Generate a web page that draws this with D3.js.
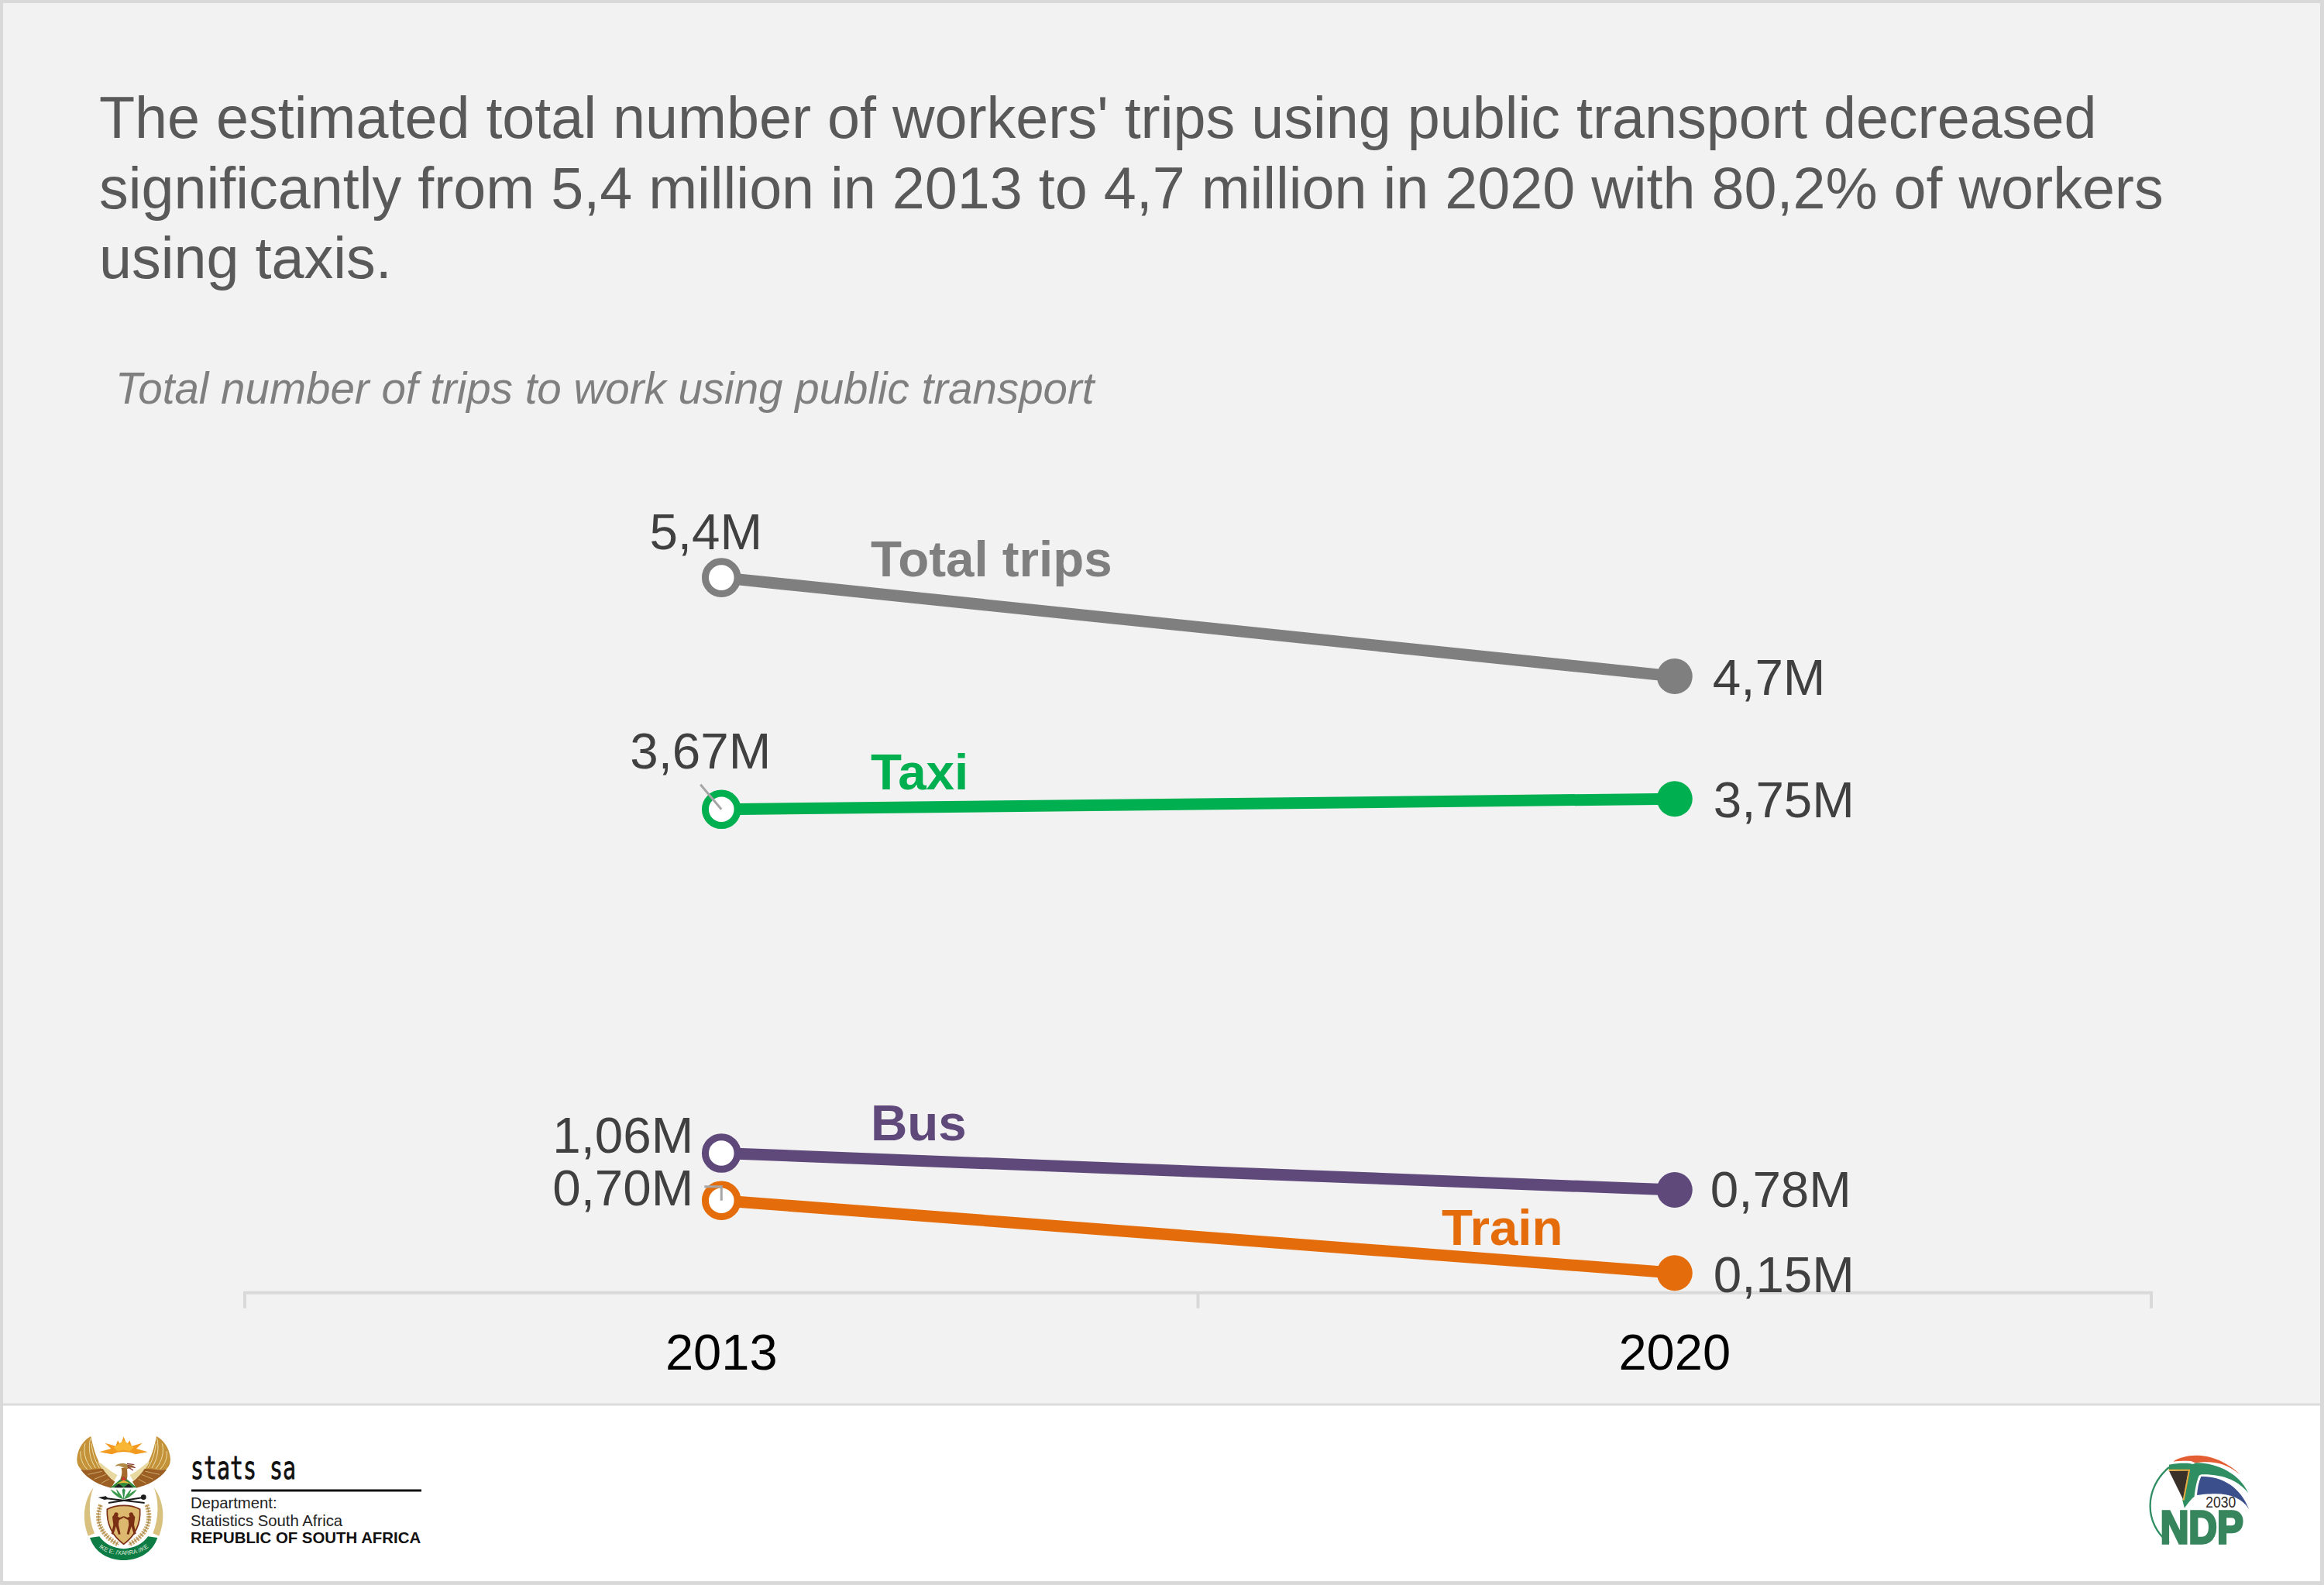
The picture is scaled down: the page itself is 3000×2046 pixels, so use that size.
<!DOCTYPE html>
<html>
<head>
<meta charset="utf-8">
<script src="https://d3js.org/d3.v7.min.js"></script>
<style>
  html, body { margin: 0; padding: 0; background: #fff; }
  svg { display: block; }
  text { font-family: "Liberation Sans", Arial, sans-serif; }
</style>
</head>
<body>
<svg id="chart"></svg>
<script>
const width = 3000, height = 2046;

// Data
const years = ["2013", "2020"];
const seriesNames = ["Total trips", "Taxi", "Bus", "Train"];
const values2013 = [5.43, 3.67, 1.06, 0.70];
const values2020 = [4.68, 3.75, 0.78, 0.15];
const labels2013 = ["5,4M", "3,67M", "1,06M", "0,70M"];
const labels2020 = ["4,7M", "3,75M", "0,78M", "0,15M"];

const titleLines = [
    "The estimated total number of workers' trips using public transport decreased",
    "significantly from 5,4 million in 2013 to 4,7 million in 2020 with 80,2% of workers",
    "using taxis."
];
const subtitle = "Total number of trips to work using public transport";

// Styles, same order as seriesNames
const colors = ["#7f7f7f", "#00b050", "#5f497a", "#e46c0a"];
const leftLabelPos = [[-20, -37], [-27, -53], [-36, -1], [-36, 6]];
const leftAnchor = ["middle", "middle", "end", "end"];
const rightLabelPos = [[49, 24], [50, 24], [46, 22], [50, 25]];
const namePos = [[1124, 744], [1124, 1019], [1124, 1472], [1861, 1607]];

let svg = d3.select("#chart")
    .attr("width", width)
    .attr("height", height)
    .attr("viewBox", "0 0 " + width + " " + height);

// Background
svg.append("rect").attr("width", width).attr("height", height).attr("fill", "#d9d9d9");
svg.append("rect").attr("x", 4).attr("y", 4).attr("width", width - 9).attr("height", height - 9).attr("fill", "#ffffff");
svg.append("rect").attr("x", 4).attr("y", 4).attr("width", width - 9).attr("height", 1809).attr("fill", "#f2f2f2");
svg.append("line").attr("x1", 4).attr("x2", width - 5).attr("y1", 1813).attr("y2", 1813)
    .attr("stroke", "#dcdcdc").attr("stroke-width", 3);

// Title
svg.append("g").selectAll("text")
    .data(titleLines)
    .enter().append("text")
    .attr("x", 128)
    .attr("y", (d, i) => 178 + i * 90.7)
    .attr("font-size", 75.5)
    .attr("fill", "#595959")
    .text(d => d);

svg.append("text")
    .attr("x", 149)
    .attr("y", 521)
    .attr("font-size", 56.5)
    .attr("font-style", "italic")
    .attr("fill", "#7f7f7f")
    .text(subtitle);

// Scales
let x = d3.scaleBand().domain(years).range([316, 2777]);
let y = d3.scaleLinear().domain([0, 6]).range([1668.7, 648.7]);
let cx = d => x(d) + x.bandwidth() / 2;

// X axis, ticks sit on the band edges
let axis = svg.append("g").attr("transform", "translate(0," + y(0) + ")");
axis.append("path")
    .attr("d", "M" + x.range()[0] + ",20V0H" + x.range()[1] + "V20")
    .attr("fill", "none")
    .attr("stroke", "#d9d9d9")
    .attr("stroke-width", 4);
axis.append("line")
    .attr("x1", x(years[1])).attr("x2", x(years[1]))
    .attr("y1", 0).attr("y2", 20)
    .attr("stroke", "#d9d9d9")
    .attr("stroke-width", 4);
axis.selectAll("text.year")
    .data(years)
    .enter().append("text")
    .attr("class", "year")
    .attr("x", d => cx(d))
    .attr("y", 99)
    .attr("text-anchor", "middle")
    .attr("font-size", 65)
    .attr("fill", "#000000")
    .text(d => d);

// Slopes
let line = d3.line().x(d => d[0]).y(d => d[1]);
svg.append("g").selectAll("path")
    .data(seriesNames)
    .enter().append("path")
    .attr("d", (d, i) => line([[cx(years[0]), y(values2013[i])], [cx(years[1]), y(values2020[i])]]))
    .attr("fill", "none")
    .attr("stroke", (d, i) => colors[i])
    .attr("stroke-width", 15);

// Points: open for 2013, filled for 2020
svg.append("g").selectAll("circle")
    .data(values2013)
    .enter().append("circle")
    .attr("cx", cx(years[0]))
    .attr("cy", d => y(d))
    .attr("r", 20.8)
    .attr("fill", "#ffffff")
    .attr("stroke", (d, i) => colors[i])
    .attr("stroke-width", 9);

svg.append("g").selectAll("circle")
    .data(values2020)
    .enter().append("circle")
    .attr("cx", cx(years[1]))
    .attr("cy", d => y(d))
    .attr("r", 23)
    .attr("fill", (d, i) => colors[i]);

// Leader lines for the two labels that were moved
let leaders = svg.append("g").attr("fill", "none").attr("stroke", "#a6a6a6").attr("stroke-width", 3);
leaders.append("path")
    .attr("d", "M" + (cx(years[0]) - 27) + "," + (y(values2013[1]) - 32) + "L" + cx(years[0]) + "," + y(values2013[1]));
leaders.append("path")
    .attr("d", "M" + (cx(years[0]) - 22) + "," + (y(values2013[3]) - 18) + "H" + cx(years[0]) + "V" + y(values2013[3]));

// Value labels
svg.append("g").selectAll("text")
    .data(labels2013)
    .enter().append("text")
    .attr("x", (d, i) => cx(years[0]) + leftLabelPos[i][0])
    .attr("y", (d, i) => y(values2013[i]) + leftLabelPos[i][1])
    .attr("text-anchor", (d, i) => leftAnchor[i])
    .attr("font-size", 65.5)
    .attr("fill", "#404040")
    .text(d => d);

svg.append("g").selectAll("text")
    .data(labels2020)
    .enter().append("text")
    .attr("x", (d, i) => cx(years[1]) + rightLabelPos[i][0])
    .attr("y", (d, i) => y(values2020[i]) + rightLabelPos[i][1])
    .attr("font-size", 65.5)
    .attr("fill", "#404040")
    .text(d => d);

// Series names
svg.append("g").selectAll("text")
    .data(seriesNames)
    .enter().append("text")
    .attr("x", (d, i) => namePos[i][0])
    .attr("y", (d, i) => namePos[i][1])
    .attr("font-size", 65.5)
    .attr("font-weight", "bold")
    .attr("fill", (d, i) => colors[i])
    .text(d => d);

// Footer: stats sa block
let foot = svg.append("g");
foot.append("text").attr("x", 246).attr("y", 1909).attr("font-size", 40)
    .attr("textLength", 136).attr("lengthAdjust", "spacingAndGlyphs")
    .style("font-family", "'DejaVu Sans Mono', monospace")
    .attr("stroke", "#111").attr("stroke-width", 0.8)
    .attr("fill", "#111").text("stats sa");
foot.append("line").attr("x1", 247).attr("x2", 544).attr("y1", 1924).attr("y2", 1924)
    .attr("stroke", "#111").attr("stroke-width", 3);
foot.append("text").attr("x", 246).attr("y", 1947).attr("font-size", 20.3).attr("fill", "#222").text("Department:");
foot.append("text").attr("x", 246).attr("y", 1970).attr("font-size", 20.3).attr("fill", "#222").text("Statistics South Africa");
foot.append("text").attr("x", 246).attr("y", 1992).attr("font-size", 20.4).attr("font-weight", "bold").attr("fill", "#111").text("REPUBLIC OF SOUTH AFRICA");

// Coat of arms, units are thirds of a pixel, symmetric around x=209
let crest = svg.append("g").attr("transform", "translate(90,1840) scale(0.3333)");
let sides = crest.selectAll("g.side").data([0, 1]).enter().append("g")
    .attr("class", "side").attr("transform", d => d ? "translate(418,0) scale(-1,1)" : null);
// tusks
sides.append("path").attr("d", "M92,240 C55,290 45,360 72,428 L96,418 C72,360 72,290 92,240 Z").attr("fill", "#d8c07f");
// gold wing and feathers
sides.append("path").attr("d", "M82,42 C55,55 30,90 28,130 C28,150 35,165 48,172 L130,172 C115,150 100,115 92,85 C88,70 84,55 82,42 Z").attr("fill", "#c49238");
sides.append("path").attr("d", "M80,50 C72,85 75,125 100,165 M60,70 C52,100 58,135 85,168 M42,100 C40,125 48,150 68,170 M84,70 C88,110 100,140 115,165")
    .attr("fill", "none").attr("stroke", "#eedfae").attr("stroke-width", 3);
// pale band under the wing
sides.append("path").attr("d", "M108,140 C125,145 150,175 185,192 L172,215 C150,198 125,175 108,140 Z").attr("fill", "#e8d9a0");
// brown lower wing
sides.append("path").attr("d", "M42,170 C75,176 105,166 128,168 C140,185 155,205 175,218 L160,242 C120,232 72,212 42,170 Z").attr("fill", "#9c5f23");
sides.append("path").attr("d", "M70,190 L125,178 M95,208 L140,190 M122,224 L152,208")
    .attr("fill", "none").attr("stroke", "#d8b779").attr("stroke-width", 2.5);
// tips of the wheat ears
sides.append("path").attr("d", "M120,308 C100,360 110,420 190,462")
    .attr("fill", "none").attr("stroke", "#c9a768").attr("stroke-width", 18).attr("stroke-dasharray", "7 4");
sides.append("path").attr("d", "M120,308 C100,360 110,420 190,462")
    .attr("fill", "none").attr("stroke", "#8a6a33").attr("stroke-width", 2);
// leaves
sides.append("path").attr("d", "M209,286 C190,268 175,254 158,248 C170,266 185,280 209,286 Z M209,286 C198,268 192,258 180,246 C184,266 194,278 209,286 Z").attr("fill", "#3d9a4e");

// sun
crest.append("path")
    .attr("d", "M115,103 L160,90 L137,68 L178,80 L186,58 L197,76 L209,43 L221,76 L232,58 L240,80 L281,68 L258,90 L302,103 L255,112 Q209,92 163,112 Z")
    .attr("fill", "#f29a1f");
crest.append("path").attr("d", "M170,86 L209,58 L248,86 L232,100 Q209,90 186,100 Z").attr("fill", "#f7b733");
// bird
crest.append("path").attr("d", "M200,165 C205,185 200,195 196,208 L222,208 C225,190 222,175 222,162 Z").attr("fill", "#a56a2c");
crest.append("path").attr("d", "M175,158 C185,146 210,144 226,152 C240,150 248,156 252,166 C240,160 232,166 226,168 C215,168 205,160 188,156 Z").attr("fill", "#b08a45");
crest.append("path").attr("d", "M222,148 L250,152 M224,154 L254,164 M224,160 L246,174").attr("fill", "none").attr("stroke", "#8a3b3b").attr("stroke-width", 4);
// shield of colours below the bird
crest.append("path").attr("d", "M158,241 L209,198 L260,241 Z").attr("fill", "#2e8b3e");
crest.append("path").attr("d", "M196,212 L209,198 L222,212 Z").attr("fill", "#d8322a");
crest.append("path").attr("d", "M180,226 L209,212 L238,226 L209,222 Z").attr("fill", "#e8b93a");
crest.append("path").attr("d", "M172,241 L190,226 L209,241 L228,226 L246,241 Z").attr("fill", "#222");
crest.append("path").attr("d", "M209,290 L203,250 L209,244 L215,250 Z").attr("fill", "#2f8f4a");
// spear and knobkerrie
crest.append("path").attr("d", "M130,281 L290,300 M150,300 L285,279").attr("fill", "none").attr("stroke", "#1c1c1c").attr("stroke-width", 6);
crest.append("path").attr("d", "M110,279 L140,274 L150,284 L135,288 Z").attr("fill", "#1c1c1c");
crest.append("circle").attr("cx", 286).attr("cy", 278).attr("r", 10).attr("fill", "#1c1c1c");
// shield
crest.append("path").attr("d", "M145,325 C180,305 240,305 272,325 C276,390 250,430 209,460 C168,430 142,390 145,325 Z")
    .attr("fill", "#dcb96f").attr("stroke", "#7a2f17").attr("stroke-width", 5);
crest.append("g").selectAll("path")
    .data([0, 1]).enter().append("path")
    .attr("transform", d => d ? "translate(418,0) scale(-1,1)" : null)
    .attr("d", "M172,345 a8,8 0 1 1 16,0 l-2,8 l8,4 l15,-6 l0,6 l-18,10 l-2,18 l8,36 l-8,2 l-10,-32 l-10,32 l-8,-4 l8,-34 l-4,-30 Z")
    .attr("fill", "#7a2f14");
// motto banner
crest.append("path")
    .attr("d", "M78,435 L115,430 C135,460 170,475 209,478 C248,475 283,460 303,430 L340,435 C320,495 265,522 209,522 C153,522 98,495 78,435 Z")
    .attr("fill", "#0e7c45");
crest.append("defs").append("path").attr("id", "motto").attr("d", "M92,446 C125,520 293,520 326,446");
crest.append("text").attr("font-size", 23).attr("fill", "#dfe9d9").attr("text-anchor", "middle")
    .append("textPath").attr("href", "#motto").attr("startOffset", "50%").text("IKE E: /XARRA //KE");

// NDP logo, units are thirds of a pixel
let ndp = svg.append("g").attr("transform", "translate(2700,1820) scale(0.3333)");
ndp.append("path").attr("d", "M316,200 C370,165 480,160 575,250 C520,205 470,195 400,205 L385,198 C360,196 335,198 316,200 Z").attr("fill", "#e35f33");
ndp.append("path").attr("d", "M300,222 C205,300 200,440 300,515").attr("fill", "none").attr("stroke", "#2f8f63").attr("stroke-width", 7);
ndp.append("path").attr("d", "M300,212 C340,205 375,205 392,210 L405,205 C490,205 575,250 607,322 C570,275 510,248 425,250 L416,254 C405,280 400,315 398,335 C385,345 370,365 360,380 L352,350 L378,232 L300,232 Z").attr("fill", "#2f8f63");
ndp.append("path").attr("d", "M300,236 L376,234 L354,346 Z").attr("fill", "#3a302a");
ndp.append("path").attr("d", "M298,233 H378 L356,350").attr("fill", "none").attr("stroke", "#e8a93c").attr("stroke-width", 6);
ndp.append("path").attr("d", "M424,258 C500,255 575,295 610,385 C585,345 540,325 480,325 C450,325 425,328 408,330 Q412,285 424,258 Z").attr("fill", "#3a4f8c");
ndp.append("text").attr("x", 442).attr("y", 378).attr("font-size", 58).attr("textLength", 117).attr("lengthAdjust", "spacingAndGlyphs")
    .attr("fill", "#2e2a28").text("2030");
ndp.append("text").attr("x", 266).attr("y", 515).attr("font-size", 178).attr("font-weight", "bold")
    .attr("textLength", 322).attr("lengthAdjust", "spacingAndGlyphs")
    .attr("stroke", "#37855c").attr("stroke-width", 10)
    .attr("fill", "#37855c").text("NDP");
</script>
</body>
</html>
